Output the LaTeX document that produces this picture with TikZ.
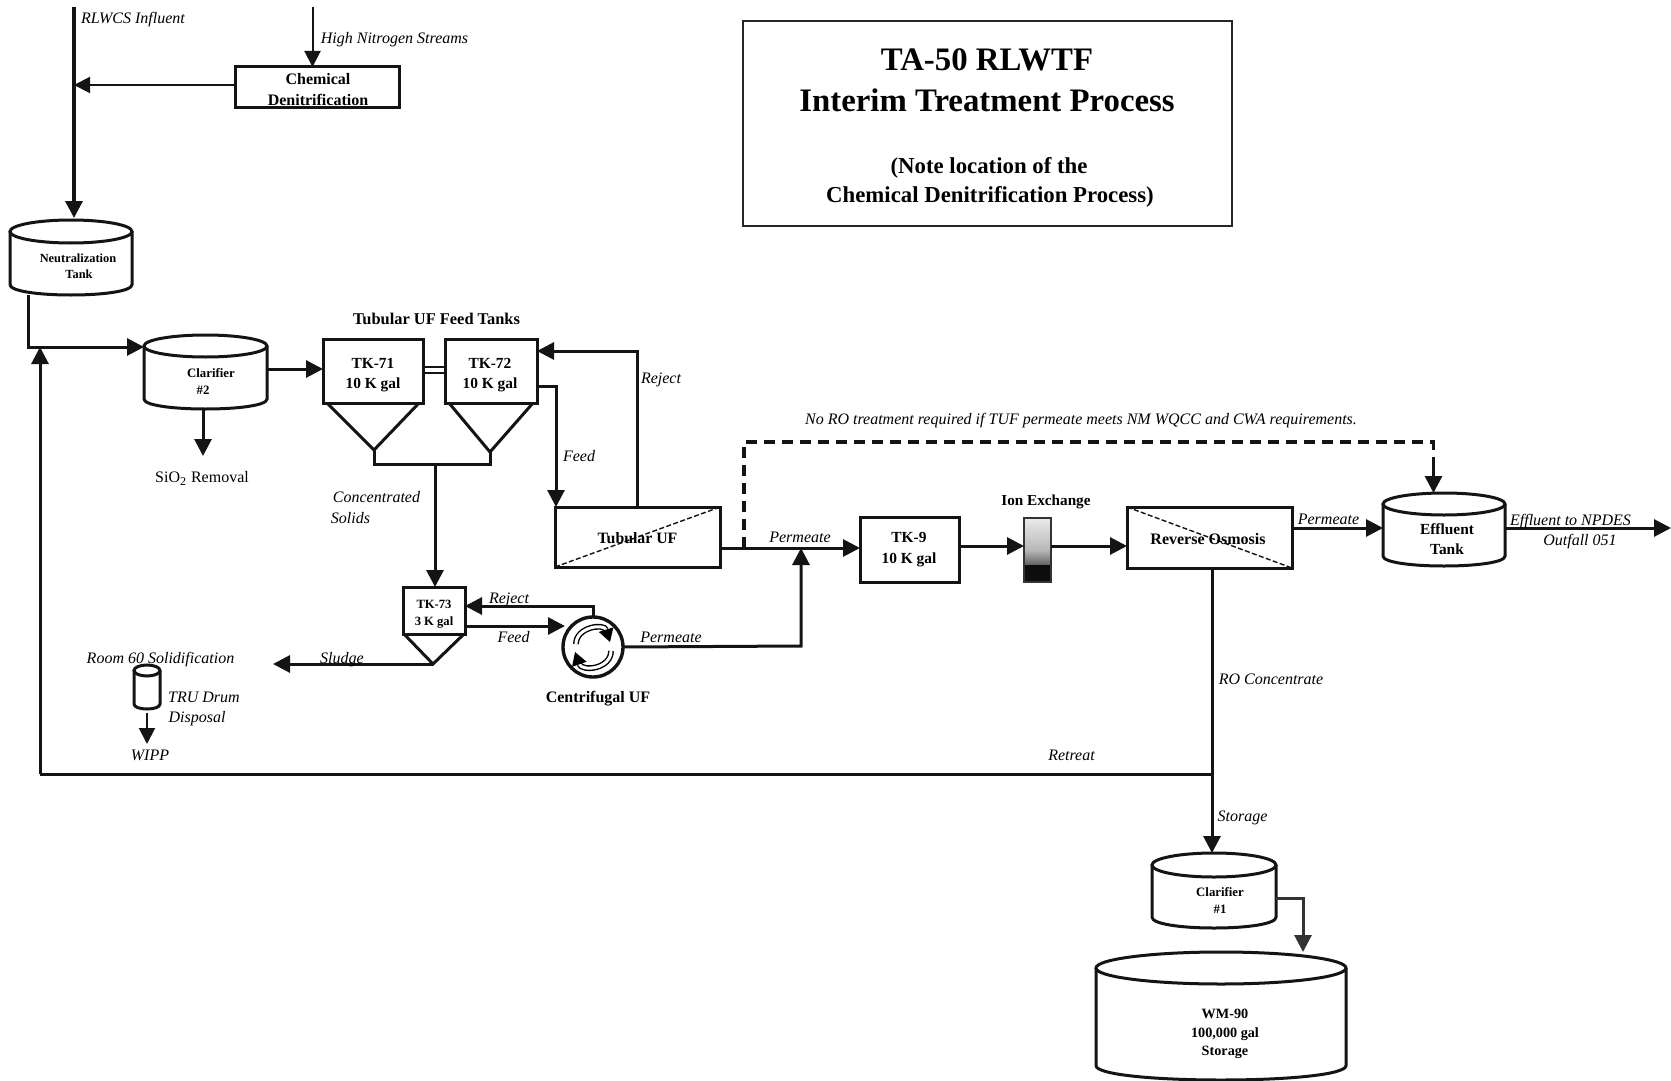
\documentclass[tikz,border=0pt]{standalone}
\usepackage{fontspec}
\setmainfont{Liberation Serif}
\usetikzlibrary{arrows.meta,calc,shadings}
\newcommand{\fz}[1]{\fontsize{#1pt}{10pt}\selectfont}
\newcommand{\tank}[6]{% name x1 x2 ytop ybot ry
  \pgfmathsetmacro{\cxx}{(#2+#3)/2}\pgfmathsetmacro{\rxx}{(#3-#2)/2}
  \pgfmathsetmacro{\yc}{#4+#6}\pgfmathsetmacro{\ye}{#5-#6*0.9}
  \pgfmathsetmacro{\yy}{(#4+#5)/2}\pgfmathsetmacro{\ww}{(#3-#2)*0.5}\pgfmathsetmacro{\hh}{(#5-#4)*0.5}
  \draw[tankline] (\cxx,\yc) ellipse [x radius=\rxx, y radius=#6];
  \draw[tankline] (#2,\yc) -- (#2,\ye) .. controls (#2,\ye+#6*0.55) and (#2+\rxx*0.45,#5) .. (\cxx,#5)
     .. controls (#3-\rxx*0.45,#5) and (#3,\ye+#6*0.55) .. (#3,\ye) -- (#3,\yc);
  \node[minimum width=\ww pt, minimum height=\hh pt, inner sep=0pt, outer sep=0pt] (#1) at (\cxx,\yy) {};
}
\newcommand{\boxn}[5]{% name x1 y1 x2 y2
  \pgfmathsetmacro{\cxx}{(#2+#4)/2}\pgfmathsetmacro{\yy}{(#3+#5)/2}
  \pgfmathsetmacro{\ww}{(#4-#2)*0.5}\pgfmathsetmacro{\hh}{(#5-#3)*0.5}
  \node[boxs, minimum width=\ww pt, minimum height=\hh pt] (#1) at (\cxx,\yy) {};
}
\tikzset{
  x=0.5pt,y=-0.5pt,
  tankline/.style={line width=1.5pt,draw=black!92},
  boxs/.style={draw=black!92,line width=1.5pt,inner sep=0pt,outer sep=0pt},
  lab/.style={font=\itshape\fz{8},inner sep=0pt,outer sep=0pt,text height=7.2pt,text depth=1.6pt},
  bl/.style={font=\bfseries\fz{#1},inner sep=0pt,outer sep=0pt,text height=#1*0.9pt,text depth=#1*0.2pt},
  flow/.style={line width=1.5pt,draw=black!92,-{Triangle[length=8.5pt,width=8.5pt]},line cap=butt},
  plain/.style={line width=1.5pt,draw=black!92},
  flowthin/.style={line width=1pt,draw=black!92,-{Triangle[length=8pt,width=8pt]}},
  dashline/.style={line width=1.6pt,draw=black!92,dash pattern=on 5.5pt off 3.5pt},
  diag/.style={line width=.7pt,draw=black!92,dash pattern=on 2.5pt off 1.2pt},
  rot/.style={line width=.7pt,double=white,double distance=1.5pt,-{Triangle[length=6.5pt,width=7.5pt]}},
}
\begin{document}
\begin{tikzpicture}
\useasboundingbox[fill=white] (0,0) rectangle (1671,1081);

% title box
\node[draw=black!85,line width=1pt,inner sep=0pt,minimum width=244.5pt,minimum height=102.5pt] (title) at (987.5,123.5) {};
\node[bl=16.4] (t1) at (987,59) {TA-50 RLWTF};
\node[bl=16.4] (t2) at (987,100) {Interim Treatment Process};
\node[bl=11.4] (t3) at (989,166) {(Note location of the};
\node[bl=11.4] (t4) at (990,195) {Chemical Denitrification Process)};

% free ends
\coordinate (inA) at (74,7);
\coordinate (inB) at (312.5,7);
\coordinate (jA) at (74,85);
\coordinate (jB) at (28,347);
\coordinate (jC) at (40,347);
\coordinate (jR) at (40,774);
\coordinate (jS) at (1212,774);
\coordinate (outEnd) at (1671,528);
\coordinate (sio) at (203,456);
\coordinate (slEnd) at (273,664);
\coordinate (wipp) at (147,744);

% chemical denitrification
\boxn{chem}{235}{67}{399}{108}
\node[bl=8] (chemA) at (318,79) {Chemical};
\node[bl=8] (chemB) at (318,100) {Denitrification};
\draw[flowthin] (inB) -- (inB |- chem.north);
\draw[plain,line width=1pt,-{Triangle[length=8pt,width=8pt]}] (chem.west |- jA) -- (jA);
\node[lab] (l1) at (133,18) {RLWCS Influent};
\node[lab] (l2) at (394.5,38) {High Nitrogen Streams};

% tanks
\tank{neut}{10}{132}{220}{295}{11.5}
\node[bl=6.2] (neutT) at (78,258) {Neutralization};
\node[bl=6.2] (neutU) at (79,274) {Tank};
\draw[flow,line width=1.8pt] (inA) -- (74,218);

\tank{clar2}{144}{267}{335}{409}{11}
\node[bl=6.4] (c2a) at (211,373) {Clarifier};
\node[bl=6.4] (c2b) at (203,390) {\#2};
\draw[plain] (jB |- neut.south) -- (jB) -- (jC);
\draw[flow] (jB) -- (clar2.west |- jB);
\draw[flow] (clar2.south -| sio) -- (sio);
\node[font=\fz{8},inner sep=0pt,text height=7.2pt,text depth=1.6pt] (sio2) at (202,477) {SiO\textsubscript{2} Removal};

% feed tanks
\node[bl=8.2] (tuf) at (436.5,319) {Tubular UF Feed Tanks};
\boxn{tk71}{323}{339}{423}{403}
\node[bl=7.7] (tk71a) at (373,363) {TK-71};
\node[bl=7.7] (tk71b) at (373,383) {10 K gal};
\boxn{tk72}{445}{339}{537}{403}
\node[bl=7.7] (tk72a) at (490,363) {TK-72};
\node[bl=7.7] (tk72b) at (490,383) {10 K gal};
\coordinate (f1) at (374,450);
\coordinate (f2) at (490,452);
\coordinate (man1) at (374,464);
\coordinate (man2) at (490,464);
\coordinate (manD) at (435,464);
\draw[tankline] (327,403) -- (f1) -- (419,403);
\draw[tankline] (449,403) -- (f2) -- (533,403);
\draw[plain] (f1) -- (man1) -- (man2) -- (f2);
\draw[plain,line width=1pt] (tk71.east |- 0,367) -- (tk72.west |- 0,367);
\draw[plain,line width=1pt] (tk71.east |- 0,373) -- (tk72.west |- 0,373);
\draw[flow] (clar2.east |- 0,369) -- (tk71.west |- 0,369);

% TK-73
\boxn{tk73}{403.5}{587}{465}{634}
\node[bl=6.3] (tk73a) at (434,604) {TK-73};
\node[bl=6.3] (tk73b) at (434,621) {3 K gal};
\coordinate (ap3) at (433,664);
\draw[tankline] (404,634) -- (ap3) -- (464,634);
\draw[flow] (manD) -- (manD |- tk73.north);
\draw[flow] (ap3) -- (slEnd);
\node[lab] (l3) at (376.5,497) {Concentrated};
\node[lab] (l4) at (350.5,518) {Solids};
\node[lab] (l5) at (342,658) {Sludge};

% Tubular UF
\boxn{tubuf}{555}{507}{720}{567}
\draw[diag] (tubuf.south west) -- (tubuf.north east);
\node[bl=7.9] (tubt) at (637.5,538) {Tubular UF};
\draw[flow] (tk72.east |- 0,386) -- (556,386) -- (tubuf.north west -| 556,0);
\draw[flow] (tubuf.north -| 637,0) -- (637,351) -- (tk72.east |- 0,351);
\node[lab] (l6) at (579,456) {Feed};
\node[lab] (l7) at (661,378) {Reject};

% Centrifugal UF
\node[draw=black!92,circle,line width=1.7pt,minimum size=30pt,inner sep=0pt,outer sep=0pt] (cuf) at (593,647) {};
\draw[rot] (576,644) .. controls (576,627) and (604,623) .. (610,642);
\draw[rot] (611,651) .. controls (611,669) and (582,672) .. (575,652);
\draw[flow] (cuf.north) -- (593,606) -- (tk73.east |- 0,606);
\draw[flow] (tk73.east |- 0,626) -- (565,626);
\node[lab] (l8) at (509,598) {Reject};
\node[lab] (l9) at (513.5,637) {Feed};
\node[lab] (l10) at (671,637) {Permeate};
\node[bl=8] (cuft) at (598,697) {Centrifugal UF};

% Solidification
\node[lab] (l11) at (160.5,658) {Room 60 Solidification};
\tank{drum}{134}{160}{665}{709}{5.5}
\draw[flowthin] (drum.south |- 0,713) -- (wipp);
\node[lab] (l12) at (204,697) {TRU Drum};
\node[lab] (l13) at (197,717) {Disposal};
\node[lab] (l14) at (150,755) {WIPP};

% TK-9 and onwards
\boxn{tk9}{860}{517}{959}{582}
\node[bl=7.7] (tk9a) at (909,537) {TK-9};
\node[bl=7.7] (tk9b) at (909,558) {10 K gal};
\node[inner sep=0pt,outer sep=0pt,minimum width=13.5pt,minimum height=32pt,top color=white!92!black,bottom color=black,middle color=black!28,shading angle=0] (ix) at (1037.5,550) {};
\fill[black!95] (1024,565) rectangle (1051,582);
\draw[black!80,line width=.6pt] (ix.north west) rectangle (ix.south east);
\node[bl=7.6] (ixt) at (1046,500) {Ion Exchange};
\boxn{ro}{1127}{507}{1292}{568}
\draw[diag] (ro.north west) -- (ro.south east);
\node[bl=8] (rot) at (1208,539) {Reverse Osmosis};
\tank{eff}{1383}{1505}{493}{566}{11}
\node[bl=7.7] (efa) at (1447,529) {Effluent};
\node[bl=7.7] (efb) at (1447,549) {Tank};

\coordinate (pj) at (801,548);
\coordinate (dj) at (744,548);
\draw[flow] (tubuf.east |- pj) -- (tk9.west |- pj);
\draw[flow] (cuf.east) -- (801,646) -- (pj);
\draw[flow] (tk9.east |- 0,546) -- (ix.west |- 0,546);
\draw[flow] (ix.east |- 0,546) -- (ro.west |- 0,546);
\draw[flow] (ro.east |- 0,528) -- (eff.west |- 0,528);
\draw[flow] (eff.east |- 0,528) -- (outEnd);
\draw[dashline] (dj) -- (744,442) -- (1433.5,442) -- (1433.5,470);
\draw[flow] (1433.5,465) -- (eff.north -| 1433.5,0);
\node[lab] (l15) at (800,537) {Permeate};
\node[lab] (l16) at (1081,419) {No RO treatment required if TUF permeate meets NM WQCC and CWA requirements.};
\node[lab] (l17) at (1328.5,519) {Permeate};
\node[lab] (l18) at (1570.5,520) {Effluent to NPDES};
\node[lab] (l19) at (1580,540) {Outfall 051};

% RO concentrate, retreat, storage
\tank{clar1}{1152}{1276}{853}{928}{12}
\node[bl=6.4] (c1a) at (1220,892) {Clarifier};
\node[bl=6.4] (c1b) at (1220,909) {\#1};
\draw[plain] (ro.south -| jS) -- (jS);
\draw[flow] (jS) -- (clar1.north -| jS);
\draw[plain] (jS) -- (jR);
\draw[flow] (jR) -- (jC);
\node[lab] (l20) at (1271,679) {RO Concentrate};
\node[lab] (l21) at (1071.5,755) {Retreat};
\node[lab] (l22) at (1242.5,816) {Storage};

\tank{wm}{1096}{1346}{952}{1080}{16}
\node[bl=7.1] (w1) at (1225,1014) {WM-90};
\node[bl=7.1] (w2) at (1225,1033) {100,000 gal};
\node[bl=7.1] (w3) at (1225,1051) {Storage};
\draw[flow,draw=black!80] (clar1.east |- 0,898) -- (1303,898) -- (wm.north -| 1303,0);
\end{tikzpicture}
\end{document}
